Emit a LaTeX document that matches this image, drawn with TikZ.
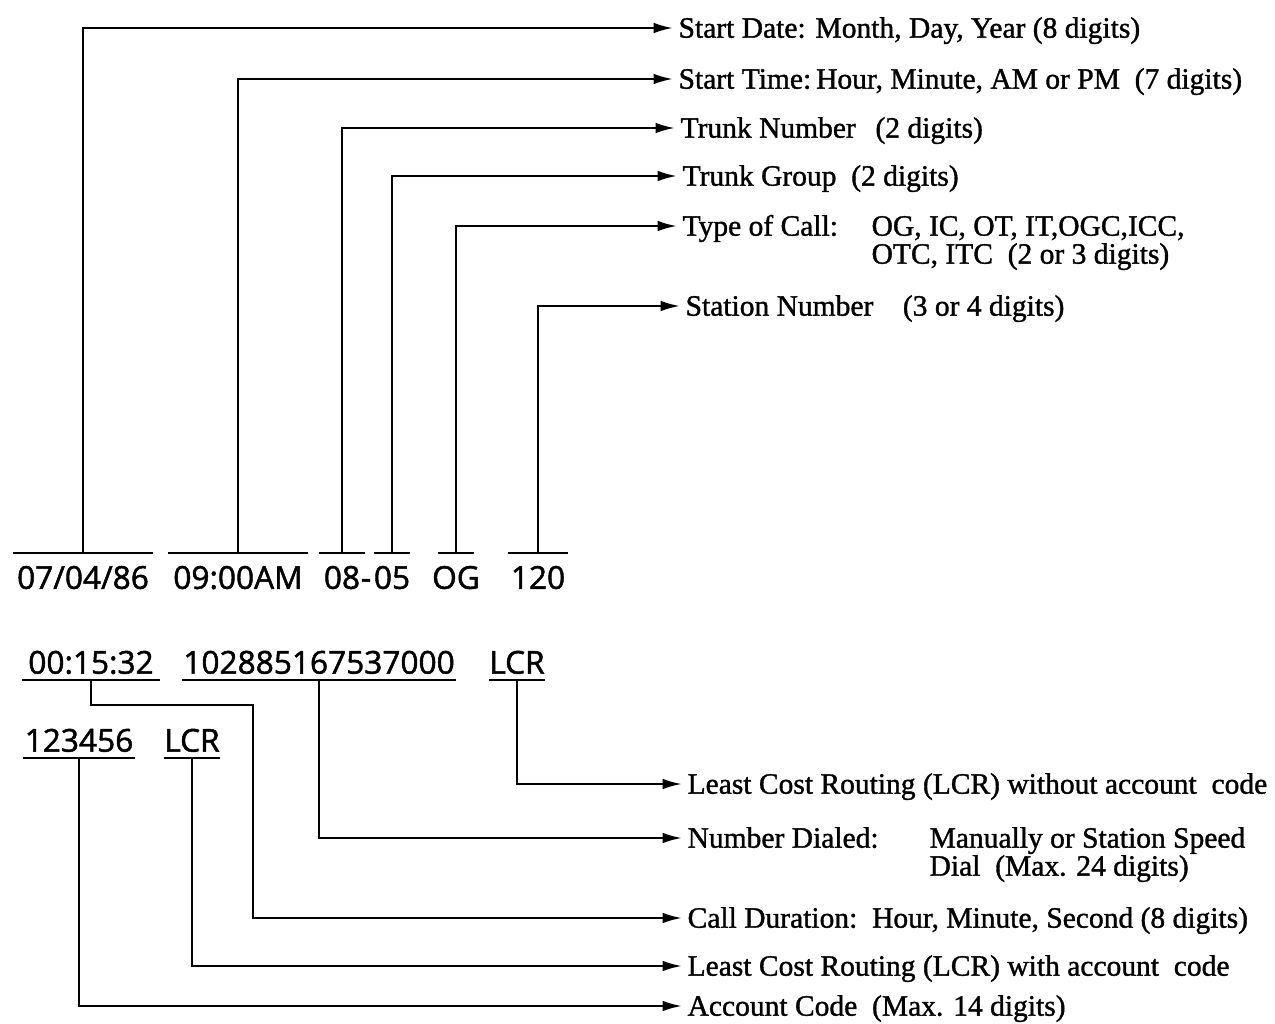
\documentclass[tikz,border=0pt]{standalone}
\usepackage{fontspec}
\usepackage{tikz}
\usetikzlibrary{arrows.meta}
\newfontfamily\lblfont{Liberation Serif}[RawFeature={embolden=1.2}]
\newfontfamily\recfont{Open Sans}[RawFeature={embolden=1.5}]
\tikzset{
  >=latex,
  % texts of the record
  field/.style={inner xsep=2pt,inner ysep=7.4pt,text height=12.8pt,text depth=0pt,
    font=\recfont\fontsize{18}{20}\selectfont},
  field top/.style={field,anchor=north},
  field low/.style={field,anchor=south,inner ysep=3.4pt},
  % descriptions
  lbl/.style={anchor=west,inner xsep=3pt,inner ysep=0pt,text height=11pt,text depth=0pt,
    font=\lblfont\fontsize{16.8}{20}\selectfont},
  % lines
  bar/.style={line width=1.5pt},
  link/.style={line width=1.3pt,-{Latex[length=11pt,width=6pt]}}
}
\begin{document}
\begin{tikzpicture}[x=0.02cm,y=-0.02cm]
  \useasboundingbox (0,0) rectangle (1275,1024);
  % first record line
  \node[field top] (date)  at (83,553)  {07/04/86};
  \node[field top] (time)  at (238,553) {09:00AM};
  \node[field top] (tnum)  at (342,553) {08};
  \node[field top] (dash)  at (366,553) {-};
  \node[field top] (tgrp)  at (392,553) {05};
  \node[field top] (ctype) at (456,553) {OG};
  \node[field top] (stn)   at (538,553) {120};
  \foreach \f/\w in {date/70,time/70,tnum/23,tgrp/18,ctype/18,stn/30}
    \draw[bar] ([shift={(-\w,0)}]\f.north) -- ([shift={(\w,0)}]\f.north);
  % second and third record lines
  \node[field low] (dur)  at (91,680)  {00:15:32};
  \node[field low] (num)  at (319,680) {102885167537000};
  \node[field low] (lcrA) at (517,680) {LCR};
  \node[field low] (acct) at (79,758)  {123456};
  \node[field low] (lcrB) at (192,758) {LCR};
  \foreach \f/\w in {dur/69,num/137,lcrA/28,acct/56,lcrB/28}
    \draw[bar] ([shift={(-\w,0)}]\f.south) -- ([shift={(\w,0)}]\f.south);
  % descriptions, top
  \node[lbl] (lDate) at (673,28)  {Start Date: Month, Day, Year (8 digits)};
  \node[lbl] (lTime) at (673,79)  {Start Time:\,Hour, Minute, AM or PM\enspace(7 digits)};
  \node[lbl] (lTnum) at (675,128) {Trunk Number\enspace\,(2 digits)};
  \node[lbl] (lTgrp) at (677,176) {Trunk Group\enspace(2 digits)};
  \node[lbl] (lType) at (677,226) {Type of Call:};
  \node[lbl] (lTypeA) at (866,226) {OG, IC, OT, IT,OGC,ICC,};
  \node[lbl] (lTypeB) at (866,254) {OTC, ITC\enspace(2 or 3 digits)};
  \node[lbl] (lStn)  at (680,306) {Station Number\quad(3 or 4 digits)};
  % descriptions, bottom
  \node[lbl] (lLcrA) at (682,784)  {Least Cost Routing (LCR) without account\enspace code};
  \node[lbl] (lNum)  at (682,838)  {Number Dialed:};
  \node[lbl] (lNumA) at (924,838)  {Manually or Station Speed};
  \node[lbl] (lNumB) at (924,866)  {Dial\enspace(Max. 24 digits)};
  \node[lbl] (lDur)  at (682,918)  {Call Duration:\enspace Hour, Minute, Second (8 digits)};
  \node[lbl] (lLcrB) at (682,966)  {Least Cost Routing (LCR) with account\enspace code};
  \node[lbl] (lAcct) at (682,1006) {Account Code\enspace(Max. 14 digits)};
  % connectors
  \draw[link] (date.north)  |- (lDate.west);
  \draw[link] (time.north)  |- (lTime.west);
  \draw[link] (tnum.north)  |- (lTnum.west);
  \draw[link] (tgrp.north)  |- (lTgrp.west);
  \draw[link] (ctype.north) |- (lType.west);
  \draw[link] (stn.north)   |- (lStn.west);
  \coordinate (durBend) at (253,705);
  \draw[link] (lcrA.south) |- (lLcrA.west);
  \draw[link] (num.south)  |- (lNum.west);
  \draw[link] (dur.south)  |- (durBend) |- (lDur.west);
  \draw[link] (lcrB.south) |- (lLcrB.west);
  \draw[link] (acct.south) |- (lAcct.west);
\end{tikzpicture}
\end{document}
